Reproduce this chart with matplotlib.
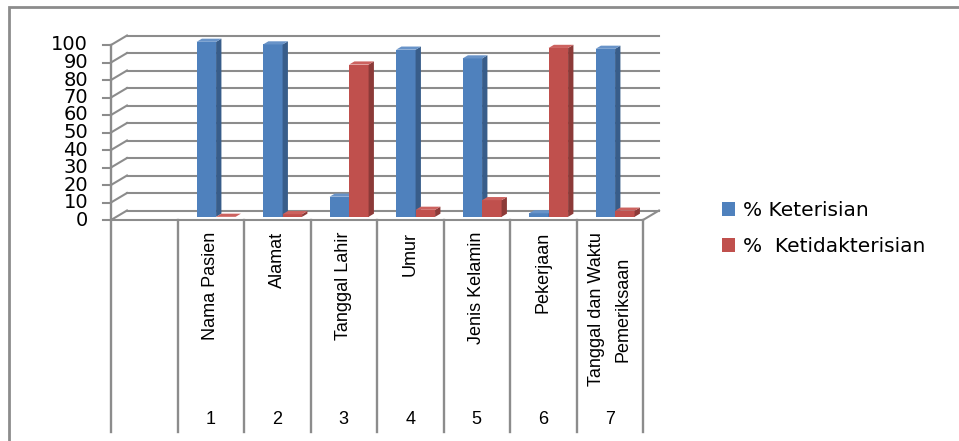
import matplotlib
matplotlib.use('Agg')
import matplotlib.pyplot as plt
import matplotlib.patches as mpatches

# data
categories = ['', 'Nama Pasien', 'Alamat', 'Tanggal Lahir', 'Umur', 'Jenis Kelamin',
              'Pekerjaan', 'Tanggal dan Waktu\nPemeriksaan']
numbers = ['', '1', '2', '3', '4', '5', '6', '7']
keterisian = [None, 100, 98.5, 11.5, 95.5, 90.5, 2, 96]
ketidakterisian = [None, 0, 1.5, 87, 4, 9.5, 96.5, 3.5]
yticks = [0, 10, 20, 30, 40, 50, 60, 70, 80, 90, 100]
series_names = ['% Keterisian', '%  Ketidakterisian']

blue = ['#4F81BD', '#385D8A', '#6893C8']
red = ['#C0504D', '#8C3A38', '#CC625F']
grid_c = '#8C8C8C'

# pixel layout of the front plane: x unit = 66.5 px, value unit = 1.75 px
W, H = 959, 441
x0_px, ux = 111, 66.5
y0_px, uy = 220, 1.75
DX = 16 / ux   # depth offset of the back wall
DY = 9.5 / uy
n = len(categories)
table_bottom = (y0_px - 432) / uy

fig = plt.figure(figsize=(W / 100, H / 100), dpi=100)
ax = fig.add_axes([0, 0, 1, 1])
ax.set_xlim(-x0_px / ux, (W - x0_px) / ux)
ax.set_ylim((y0_px - H) / uy, y0_px / uy)
ax.axis('off')

# outer chart border (cropped on right and bottom)
fig.patches.append(mpatches.Rectangle((9 / W, -0.2), 1.2, 1.2 - 7 / H,
                                      transform=fig.transFigure, fill=False,
                                      edgecolor=grid_c, linewidth=2))

# back wall gridlines and left wall diagonals
for v in yticks:
    ax.plot([DX, n + DX], [v + DY, v + DY], color=grid_c, lw=1.5, zorder=1)
    ax.plot([0, DX], [v, v + DY], color=grid_c, lw=1.5, zorder=1)
    ax.plot([-8 / ux, 0], [v, v], color=grid_c, lw=1.5, zorder=1)
    ax.text(-23 / ux, v, str(v), ha='right', va='center', fontsize=14,
            family='DejaVu Sans', color='black')

# floor outline
ax.plot([0, n], [0, 0], color=grid_c, lw=1.5, zorder=1)
ax.plot([n, n + DX], [0, DY], color=grid_c, lw=1.5, zorder=1)
ax.plot([0, 0], [max(yticks), table_bottom], color=grid_c, lw=1.7, zorder=1)

# category table lines
for i in range(1, n + 1):
    ax.plot([i, i], [0, table_bottom], color=grid_c, lw=1.7, zorder=1)

# 3d-looking bars, placed at one third of the depth
w = 19.5 / ux
ox, oy = DX / 3, DY / 3
for i in range(1, n):
    c = i + 0.5
    for k, (vals, cols) in enumerate([(keterisian, blue), (ketidakterisian, red)]):
        v = vals[i]
        x = c - w + k * w + ox
        ax.bar(x, v, width=w, bottom=oy, align='edge', color=cols[0],
               linewidth=0, zorder=2 + k)
        top = oy + v
        ax.fill([x + w, x + w + ox, x + w + ox, x + w],
                [oy, 2 * oy, top + oy, top], color=cols[1], lw=0, zorder=2 + k)
        ax.fill([x, x + ox, x + w + ox, x + w],
                [top, top + oy, top + oy, top], color=cols[2], lw=0, zorder=2 + k)

# category names and numbers
for i in range(n):
    ax.text(i + 0.5, (y0_px - 232) / uy, categories[i], rotation=90, ha='center',
            va='top', multialignment='center', fontsize=13,
            family='Liberation Sans', color='black', linespacing=1.75)
    ax.text(i + 0.5, (y0_px - 420) / uy, numbers[i], ha='center', va='center',
            fontsize=13, family='Liberation Sans', color='black')

handles = [mpatches.Patch(facecolor=blue[0], edgecolor='none'),
           mpatches.Patch(facecolor=red[0], edgecolor='none')]
fig.legend(handles, series_names, loc='upper left',
           bbox_to_anchor=(708 / W, 1 - 187 / H), frameon=False, fontsize=14.5,
           handlelength=0.65, handleheight=0.65, handletextpad=0.4,
           labelspacing=0.85, borderpad=0.2)

fig.savefig('out.png', dpi=100)
